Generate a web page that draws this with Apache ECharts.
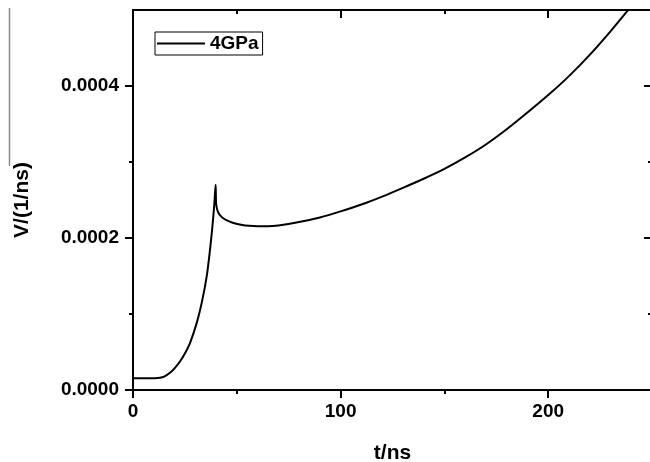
<!DOCTYPE html>
<html>
<head>
<meta charset="utf-8">
<script src="https://cdn.jsdelivr.net/npm/echarts@6/dist/echarts.min.js"></script>
<style>
  html, body { margin: 0; padding: 0; background: #fff; }
  #chart { width: 650px; height: 462px; }
</style>
</head>
<body>
<div id="chart"></div>
<script>
// Time samples (ns) and the corresponding V values (1/ns) for the 4 GPa run
const timeNs = [0, 5, 10, 13, 15, 17.8, 20, 22.7, 25, 27.5, 30.7, 33.1, 35.5, 37.1, 38.4, 39.2, 39.8,
  40.0, 40.4, 41.0, 41.9, 43.0, 45.0, 48.0, 52.0, 56.0, 60.0, 65.0, 70.0, 80.0, 90.0, 100, 110, 120, 130, 140, 150,
  160, 170, 180, 190, 200, 210, 220, 230, 240];
const velocity = [1.55e-5, 1.55e-5, 1.56e-5, 1.60e-5, 1.75e-5, 2.26e-5, 2.85e-5, 3.78e-5, 4.8e-5, 6.2e-5, 8.83e-5, 1.146e-4,
  1.495e-4, 1.846e-4, 2.197e-4, 2.46e-4, 2.70e-4,
  2.47e-4, 2.39e-4, 2.34e-4, 2.30e-4, 2.27e-4, 2.235e-4, 2.20e-4, 2.175e-4, 2.16e-4, 2.155e-4, 2.155e-4, 2.165e-4, 2.21e-4,
  2.27e-4, 2.35e-4, 2.44e-4, 2.545e-4, 2.66e-4, 2.78e-4, 2.91e-4, 3.06e-4, 3.23e-4, 3.43e-4, 3.65e-4, 3.88e-4,
  4.13e-4, 4.41e-4, 4.72e-4, 5.05e-4];
const seriesName = '4GPa';

// Axis tick values
const xMajorTicks = [0, 100, 200];
const xMinorTicks = [50, 150];
const yMajorTicks = [0, 0.0002, 0.0004];
const yMinorTicks = [0.0001, 0.0003];

const xRange = [0, 250];
const yRange = [0, 0.0005];

const points = timeNs.map((t, i) => [t, velocity[i]]);

const labelFont = { color: '#000', fontFamily: 'Liberation Sans, Arial, sans-serif', fontWeight: 'bold', fontSize: 19 };
const nameFont = { color: '#000', fontFamily: 'Liberation Sans, Arial, sans-serif', fontWeight: 'bold', fontSize: 21 };
const axisStroke = { color: '#000', width: 2 };

// Tick-only axes that frame the plot (minor ticks and the mirrored top/right sides)
function frameAxis(range, position, ticks, len, inside, showLine) {
  return {
    type: 'value',
    position: position,
    min: range[0],
    max: range[1],
    axisLine: { show: showLine, onZero: false, lineStyle: axisStroke },
    axisTick: { show: true, inside: inside, length: len, customValues: ticks, lineStyle: { color: '#000', width: 2 } },
    axisLabel: { show: false },
    splitLine: { show: false }
  };
}

const chart = echarts.init(document.getElementById('chart'), null, { renderer: 'canvas' });

chart.setOption({
  animation: false,
  backgroundColor: '#fff',
  grid: { left: 133, right: -2, top: 10, bottom: 72, containLabel: false, outerBoundsMode: 'none' },
  legend: {
    left: 155,
    top: 32,
    padding: [2, 4, 2, 2],
    borderColor: '#000',
    borderWidth: 1,
    itemWidth: 48,
    itemHeight: 2,
    textStyle: labelFont,
    data: [{ name: seriesName, icon: 'rect' }]
  },
  xAxis: [
    {
      type: 'value',
      position: 'bottom',
      min: xRange[0],
      max: xRange[1],
      interval: 100,
      name: 't/ns',
      nameLocation: 'middle',
      nameGap: 53,
      nameTextStyle: nameFont,
      axisLine: { show: true, onZero: false, lineStyle: axisStroke },
      axisTick: { show: true, inside: false, length: 8, customValues: xMajorTicks, lineStyle: { color: '#000', width: 2 } },
      axisLabel: Object.assign({ margin: 12, customValues: xMajorTicks,
        formatter: v => String(v) }, labelFont),
      splitLine: { show: false }
    },
    frameAxis(xRange, 'bottom', xMinorTicks, 4, false, false),
    frameAxis(xRange, 'top', xMajorTicks, 8, true, true),
    frameAxis(xRange, 'top', xMinorTicks, 4, true, false)
  ],
  yAxis: [
    {
      type: 'value',
      position: 'left',
      min: yRange[0],
      max: yRange[1],
      interval: 0.0002,
      name: 'V/(1/ns)',
      nameLocation: 'middle',
      nameGap: 100,
      nameTextStyle: nameFont,
      axisLine: { show: true, onZero: false, lineStyle: axisStroke },
      axisTick: { show: true, inside: false, length: 8, customValues: yMajorTicks, lineStyle: { color: '#000', width: 2 } },
      axisLabel: Object.assign({ margin: 14, customValues: yMajorTicks,
        formatter: v => v.toFixed(4) }, labelFont),
      splitLine: { show: false }
    },
    frameAxis(yRange, 'left', yMinorTicks, 4, false, false),
    frameAxis(yRange, 'right', yMajorTicks, 8, true, true),
    frameAxis(yRange, 'right', yMinorTicks, 4, true, false)
  ],
  graphic: [
    {
      type: 'line',
      shape: { x1: 9.5, y1: 8, x2: 9.5, y2: 166 },
      style: { stroke: '#8a8a8a', lineWidth: 1.5 },
      silent: true
    }
  ],
  series: [
    {
      name: seriesName,
      type: 'line',
      xAxisIndex: 0,
      yAxisIndex: 0,
      data: points,
      symbol: 'none',
      smooth: 0.3,
      clip: true,
      lineStyle: { color: '#000', width: 2 },
      itemStyle: { color: '#000' }
    }
  ]
});
</script>
</body>
</html>
